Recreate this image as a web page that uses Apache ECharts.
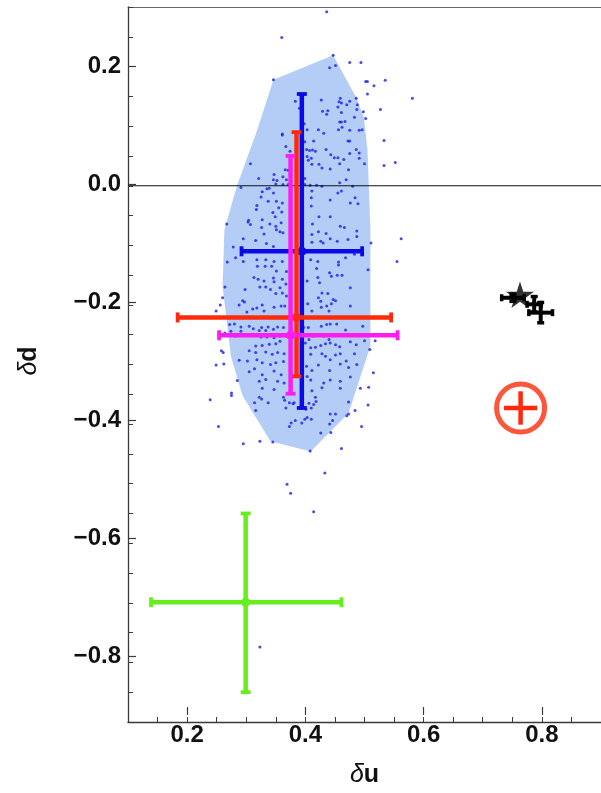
<!DOCTYPE html>
<html><head><meta charset="utf-8">
<script src="https://cdn.jsdelivr.net/npm/echarts@6/dist/echarts.min.js"></script>
<style>html,body{margin:0;padding:0;background:#fff}#c{width:601px;height:793px}</style>
</head><body><div id="c"></div>
<script>
// ---------- tick labels ----------
const xMajorTicks = [0.2, 0.4, 0.6, 0.8];
const yMajorTicks = [-0.8, -0.6, -0.4, -0.2, 0, 0.2];

// ---------- sample cloud (δu, δd) ----------
const cloud = [
[0.436,0.292],[0.360,0.249],[0.447,0.219],[0.441,0.198],[0.451,0.202],[0.475,0.207],[0.494,0.207],[0.346,0.178],[0.502,0.175],[0.505,0.175],[0.516,0.168],[0.535,0.177],[0.505,0.154],[0.581,0.147],[0.383,0.142],[0.427,0.144],[0.459,0.147],[0.457,0.141],[0.461,0.139],[0.475,0.142],[0.486,0.147],[0.488,0.136],[0.470,0.136],[0.455,0.132],[0.390,0.130],[0.429,0.125],[0.438,0.126],[0.436,0.120],[0.461,0.123],[0.487,0.128],[0.498,0.124],[0.527,0.128],[0.483,0.115],[0.458,0.107],[0.461,0.107],[0.467,0.108],[0.502,0.113],[0.398,0.104],[0.462,0.098],[0.456,0.094],[0.475,0.093],[0.491,0.093],[0.496,0.094],[0.403,0.094],[0.422,0.094],[0.431,0.088],[0.361,0.087],
[0.361,0.085],[0.399,0.074],[0.414,0.075],[0.472,0.075],[0.475,0.075],[0.533,0.076],[0.367,0.066],[0.374,0.058],[0.402,0.061],[0.407,0.059],[0.412,0.060],[0.417,0.058],[0.435,0.061],[0.443,0.052],[0.449,0.047],[0.455,0.047],[0.465,0.044],[0.475,0.054],[0.486,0.061],[0.491,0.055],[0.491,0.046],[0.500,0.037],[0.552,0.039],[0.533,0.034],[0.403,0.049],[0.410,0.046],[0.405,0.043],[0.411,0.036],[0.423,0.036],[0.428,0.030],[0.442,0.028],[0.458,0.037],[0.473,0.027],[0.307,0.037],[0.366,0.027],[0.371,0.026],[0.347,0.019],[0.321,0.012],[0.346,0.010],[0.352,0.009],[0.362,0.015],[0.368,0.010],[0.350,0.003],[0.362,0.002],[0.371,0.002],[0.399,0.012],[0.399,0.002],[0.408,0.001],[0.419,0.001],[0.428,-0.001],[0.469,0.010],[0.458,0.005],[0.480,-0.001],[0.291,-0.003],[0.335,-0.005],[0.339,-0.004],[0.327,-0.010],[0.346,-0.012],[0.411,-0.009],[0.455,-0.012],[0.461,-0.009],[0.410,-0.020],[0.325,-0.019],[0.484,-0.020],[0.442,-0.024],[0.337,-0.026],[0.351,-0.026],[0.476,-0.029],[0.489,-0.030],[0.318,-0.033],[0.317,-0.040],[0.361,-0.029],[0.355,-0.037],[0.410,-0.034],[0.345,-0.045],[0.360,-0.044],[0.423,-0.052],[0.442,-0.052],[0.349,-0.052],[0.267,-0.064],[0.304,-0.058],[0.303,-0.061],[0.327,-0.057],[0.307,-0.065],[0.326,-0.070],[0.340,-0.064],[0.350,-0.068],[0.351,-0.074],[0.359,-0.062],[0.357,-0.077],[0.362,-0.079],[0.412,-0.064],[0.459,-0.068],[0.466,-0.070],[0.330,-0.081],[0.411,-0.082],[0.422,-0.077],[0.435,-0.080],[0.487,-0.076],[0.487,-0.085],[0.295,-0.089],[0.316,-0.092],[0.411,-0.095],[0.426,-0.093],[0.430,-0.096],[0.442,-0.089],[0.454,-0.093],[0.472,-0.090],[0.511,-0.096],[0.562,-0.089],[0.334,-0.097],[0.346,-0.102],[0.278,-0.103],[0.282,-0.121],[0.295,-0.127],[0.268,-0.128],[0.318,-0.124],[0.333,-0.124],[0.347,-0.127],[0.361,-0.127],[0.409,-0.124],[0.421,-0.127],[0.456,-0.128],[0.468,-0.121],[0.483,-0.115],[0.555,-0.127],
[0.319,-0.135],[0.332,-0.135],[0.343,-0.135],[0.351,-0.143],[0.368,-0.144],[0.419,-0.139],[0.441,-0.146],[0.456,-0.133],[0.506,-0.141],[0.313,-0.154],[0.320,-0.157],[0.330,-0.160],[0.346,-0.155],[0.347,-0.161],[0.361,-0.157],[0.367,-0.165],[0.403,-0.160],[0.421,-0.154],[0.424,-0.163],[0.444,-0.152],[0.454,-0.150],[0.462,-0.150],[0.264,-0.170],[0.298,-0.174],[0.323,-0.170],[0.333,-0.170],[0.341,-0.174],[0.357,-0.171],[0.476,-0.171],[0.350,-0.181],[0.361,-0.180],[0.368,-0.185],[0.428,-0.180],[0.438,-0.181],[0.422,-0.188],[0.426,-0.194],[0.260,-0.188],[0.294,-0.193],[0.297,-0.195],[0.288,-0.200],[0.327,-0.200],[0.347,-0.204],[0.359,-0.202],[0.365,-0.202],[0.404,-0.198],[0.447,-0.191],[0.451,-0.193],[0.444,-0.198],[0.436,-0.202],[0.256,-0.200],[0.249,-0.210],[0.301,-0.212],[0.311,-0.207],[0.318,-0.205],[0.330,-0.210],[0.427,-0.204],[0.440,-0.210],[0.411,-0.210],[0.476,-0.202],[0.272,-0.233],[0.280,-0.232],[0.291,-0.237],[0.305,-0.236],[0.312,-0.240],[0.322,-0.243],[0.326,-0.238],[0.333,-0.243],[0.337,-0.237],[0.346,-0.241],[0.353,-0.237],[0.363,-0.238],[0.397,-0.238],[0.405,-0.238],[0.427,-0.236],[0.436,-0.233],[0.442,-0.232],[0.453,-0.232],[0.468,-0.242],[0.497,-0.236],[0.264,-0.247],[0.274,-0.244],[0.282,-0.252],[0.291,-0.244],[0.325,-0.254],[0.335,-0.254],[0.347,-0.255],[0.357,-0.252],[0.367,-0.252],[0.406,-0.258],[0.414,-0.252],[0.423,-0.250],[0.431,-0.252],[0.440,-0.258],[0.316,-0.269],[0.327,-0.268],[0.339,-0.266],[0.350,-0.265],[0.357,-0.261],[0.400,-0.264],[0.409,-0.272],[0.417,-0.271],[0.426,-0.268],[0.434,-0.265],[0.442,-0.264],[0.451,-0.267],[0.458,-0.270],[0.476,-0.262],[0.486,-0.267],[0.500,-0.260],[0.509,-0.275],[0.518,-0.260],[0.258,-0.277],[0.261,-0.280],[0.305,-0.277],[0.316,-0.280],[0.333,-0.279],[0.344,-0.283],[0.353,-0.280],[0.364,-0.282],[0.409,-0.283],[0.428,-0.282],[0.434,-0.286],[0.442,-0.292],[0.451,-0.284],[0.459,-0.282],[0.469,-0.294],[0.483,-0.282],[0.288,-0.293],[0.302,-0.294],[0.318,-0.292],[0.327,-0.297],[0.341,-0.300],[0.350,-0.297],[0.363,-0.295],[0.249,-0.301],[0.262,-0.299],[0.402,-0.303],[0.411,-0.310],[0.422,-0.301],[0.441,-0.310],[0.459,-0.299],[0.473,-0.305],[0.487,-0.300],[0.515,-0.314],[0.305,-0.312],[0.314,-0.307],[0.327,-0.317],[0.347,-0.311],[0.359,-0.317],[0.285,-0.327],[0.322,-0.328],[0.333,-0.325],[0.353,-0.328],[0.364,-0.331],[0.403,-0.320],[0.409,-0.326],[0.431,-0.331],[0.442,-0.326],[0.459,-0.328],[0.476,-0.321],[0.507,-0.338],[0.327,-0.340],[0.347,-0.342],[0.411,-0.344],[0.428,-0.339],[0.459,-0.340],[0.493,-0.340],[0.275,-0.348],
[0.239,-0.359],[0.275,-0.352],[0.314,-0.364],[0.322,-0.355],[0.326,-0.358],[0.337,-0.364],[0.316,-0.377],[0.363,-0.355],[0.365,-0.360],[0.373,-0.364],[0.379,-0.366],[0.381,-0.364],[0.367,-0.373],[0.406,-0.365],[0.417,-0.355],[0.418,-0.362],[0.414,-0.367],[0.410,-0.373],[0.401,-0.375],[0.473,-0.363],[0.484,-0.377],[0.506,-0.368],[0.442,-0.383],[0.451,-0.383],[0.473,-0.383],[0.470,-0.386],[0.446,-0.394],[0.441,-0.400],[0.383,-0.394],[0.376,-0.398],[0.373,-0.404],[0.394,-0.398],[0.399,-0.392],[0.403,-0.389],[0.410,-0.392],[0.253,-0.404],[0.495,-0.404],[0.426,-0.415],[0.443,-0.414],[0.295,-0.433],[0.323,-0.429],[0.345,-0.430],[0.408,-0.445],[0.461,-0.441],[0.433,-0.482],[0.369,-0.501],[0.375,-0.516],[0.414,-0.547],[0.323,-0.774]
];

// ---------- shaded region outline ----------
const hullU = [0.447,0.486,0.499,0.505,0.510,0.510,0.473,0.409,0.341,0.294,0.274,0.260,0.263,0.285,0.316,0.346];
const hullD = [0.219,0.148,0.114,0.061,-0.074,-0.269,-0.382,-0.446,-0.429,-0.353,-0.286,-0.169,-0.074,0.002,0.086,0.178];

// ---------- error-bar estimates: blue, red, magenta, green ----------
const barU     = [0.394, 0.385, 0.375, 0.299];
const barD     = [-0.110, -0.221, -0.251, -0.699];
const barULow  = [0.292, 0.184, 0.254, 0.139];
const barUHigh = [0.496, 0.545, 0.556, 0.461];
const barDLow  = [-0.373, -0.320, -0.349, -0.850];
const barDHigh = [0.154, 0.090, 0.050, -0.550];
const barColors = ['#0a0ae8', '#ff2a0a', '#ff1cf0', '#66ee1e'];

// ---------- black star and crosses ----------
const starPoint = [0.763, -0.183];
const crossU    = [0.751, 0.787, 0.798];
const crossD    = [-0.188, -0.199, -0.213];
const crossUErr = [0.019, 0.012, 0.020];
const crossDErr = [0.006, 0.013, 0.017];

// ---------- red circled point ----------
const ringPoint = [0.764, -0.373];
const ringErr   = [0.028, 0.028];

function makeBarRenderer(colors, lw, capLen, capW, dotR) {
  return function (params, api) {
    const u = api.value(0), d = api.value(1);
    const ul = api.value(2), uh = api.value(3), dl = api.value(4), dh = api.value(5);
    const col = Array.isArray(colors) ? colors[params.dataIndex] : colors;
    const c = api.coord([u, d]);
    const L = api.coord([ul, d]), R = api.coord([uh, d]);
    const B = api.coord([u, dl]), T = api.coord([u, dh]);
    const st = { stroke: col, lineWidth: lw, lineCap: 'butt' };
    const cs = { stroke: col, lineWidth: capW };
    const ch = [
      { type: 'line', shape: { x1: L[0], y1: L[1], x2: R[0], y2: R[1] }, style: st },
      { type: 'line', shape: { x1: B[0], y1: B[1], x2: T[0], y2: T[1] }, style: st }
    ];
    if (capLen > 0) {
      const h = capLen / 2;
      ch.push({ type: 'line', shape: { x1: L[0], y1: L[1] - h, x2: L[0], y2: L[1] + h }, style: cs });
      ch.push({ type: 'line', shape: { x1: R[0], y1: R[1] - h, x2: R[0], y2: R[1] + h }, style: cs });
      ch.push({ type: 'line', shape: { x1: B[0] - h, y1: B[1], x2: B[0] + h, y2: B[1] }, style: cs });
      ch.push({ type: 'line', shape: { x1: T[0] - h, y1: T[1], x2: T[0] + h, y2: T[1] }, style: cs });
    }
    if (dotR > 0) ch.push({ type: 'circle', shape: { cx: c[0], cy: c[1], r: dotR }, style: { fill: col } });
    return { type: 'group', children: ch };
  };
}

const barData = barU.map((u, i) => [u, barD[i], barULow[i], barUHigh[i], barDLow[i], barDHigh[i]]);
const crossData = crossU.map((u, i) => [u, crossD[i], u - crossUErr[i], u + crossUErr[i], crossD[i] - crossDErr[i], crossD[i] + crossDErr[i]]);
const ringCross = [[ringPoint[0], ringPoint[1], ringPoint[0] - ringErr[0], ringPoint[0] + ringErr[0], ringPoint[1] - ringErr[1], ringPoint[1] + ringErr[1]]];

const axisCol = '#3a3a3a';
const labelStyle = { fontSize: 24, fontWeight: 'bold', fontFamily: 'Liberation Sans, Arial, sans-serif', color: '#111' };
const nameRich = {
  i: { fontFamily: 'Liberation Sans, Arial, sans-serif', fontStyle: 'italic', fontSize: 25, color: '#111' },
  b: { fontFamily: 'Liberation Sans, Arial, sans-serif', fontWeight: 'bold', fontSize: 25, color: '#111' }
};
const gridBox = { left: 128, top: 7, width: 475, height: 715 };

const chart = echarts.init(document.getElementById('c'), null, { renderer: 'canvas' });
chart.setOption({
  animation: false,
  backgroundColor: '#fff',
  grid: [Object.assign({}, gridBox), Object.assign({}, gridBox)],
  xAxis: [
    { gridIndex: 0, type: 'value', min: 0.1, max: 0.9, interval: 0.05, position: 'bottom',
      axisLine: { show: true, onZero: false, lineStyle: { color: axisCol, width: 1.3 } },
      axisTick: { show: true, inside: true, length: 5, lineStyle: { color: axisCol, width: 1 } },
      axisLabel: { show: false }, splitLine: { show: false } },
    { gridIndex: 0, type: 'value', min: 0.1, max: 0.9, interval: 0.1, position: 'top',
      axisLine: { show: true, onZero: false, lineStyle: { color: '#666', width: 1 } },
      axisTick: { show: false }, axisLabel: { show: false }, splitLine: { show: false } },
    { gridIndex: 1, type: 'value', min: 0.1, max: 0.9, position: 'bottom',
      axisLine: { show: false, onZero: false },
      axisTick: { show: true, inside: true, length: 8, customValues: xMajorTicks, lineStyle: { color: axisCol, width: 1.2 } },
      axisLabel: Object.assign({ customValues: xMajorTicks, margin: 8, formatter: v => v.toFixed(1) }, labelStyle),
      splitLine: { show: false },
      name: '{i|δ}{b|u}', nameLocation: 'middle', nameGap: 48, nameTextStyle: { rich: nameRich } }
  ],
  yAxis: [
    { gridIndex: 0, type: 'value', min: -0.9, max: 0.3, interval: 0.05, position: 'left',
      axisLine: { show: true, onZero: false, lineStyle: { color: axisCol, width: 1.3 } },
      axisTick: { show: true, inside: true, length: 5, lineStyle: { color: axisCol, width: 1 } },
      axisLabel: { show: false }, splitLine: { show: false } },
    { gridIndex: 1, type: 'value', min: -0.9, max: 0.3, position: 'left',
      axisLine: { show: false, onZero: false },
      axisTick: { show: true, inside: true, length: 8, customValues: yMajorTicks, lineStyle: { color: axisCol, width: 1.2 } },
      axisLabel: Object.assign({ customValues: yMajorTicks, margin: 7,
        formatter: v => (v < -1e-9 ? '\u2212' : '') + Math.abs(v).toFixed(1) }, labelStyle),
      splitLine: { show: false },
      name: '{i|δ}{b|d}', nameLocation: 'middle', nameGap: 86, nameTextStyle: { rich: nameRich } }
  ],
  series: [
    { type: 'custom', xAxisIndex: 0, yAxisIndex: 0, z: 1, silent: true,
      data: [[hullU[0], hullD[0]]],
      renderItem: function (params, api) {
        const pts = hullU.map((u, i) => api.coord([u, hullD[i]]));
        return { type: 'polygon', shape: { points: pts }, style: { fill: '#b4cdf7' } };
      } },
    { type: 'scatter', xAxisIndex: 0, yAxisIndex: 0, z: 2, silent: true,
      data: cloud, symbol: 'circle', symbolSize: 3, itemStyle: { color: '#1c1cee' } },
    { type: 'line', xAxisIndex: 0, yAxisIndex: 0, z: 3, silent: true,
      data: [[0.1, 0], [0.9, 0]], symbol: 'none', lineStyle: { color: '#111', width: 1.2 } },
    { type: 'custom', xAxisIndex: 0, yAxisIndex: 0, z: 4, silent: true,
      data: barData, encode: { x: [0, 2, 3], y: [1, 4, 5] },
      renderItem: makeBarRenderer(barColors, 4.5, 10, 3.8, 4.5) },
    { type: 'custom', xAxisIndex: 0, yAxisIndex: 0, z: 5, silent: true,
      data: crossData, encode: { x: [0, 2, 3], y: [1, 4, 5] },
      renderItem: makeBarRenderer('#000', 4, 7, 3.5, 0) },
    { type: 'scatter', xAxisIndex: 0, yAxisIndex: 0, z: 6, silent: true,
      data: [starPoint], symbolKeepAspect: true, symbolSize: 28,
      symbol: 'path://M50,0 L61.2,34.5 L97.6,34.5 L68.2,55.9 L79.4,90.5 L50,69.1 L20.6,90.5 L31.8,55.9 L2.4,34.5 L38.8,34.5 Z',
      itemStyle: { color: '#000' } },
    { type: 'scatter', xAxisIndex: 0, yAxisIndex: 0, z: 6, silent: true,
      data: [ringPoint], symbol: 'circle', symbolSize: 48,
      itemStyle: { color: 'rgba(0,0,0,0)', borderColor: '#ff2a0a', borderWidth: 5 } },
    { type: 'custom', xAxisIndex: 0, yAxisIndex: 0, z: 6, silent: true,
      data: ringCross, encode: { x: [0, 2, 3], y: [1, 4, 5] },
      renderItem: makeBarRenderer('#ff2a0a', 4.5, 0, 0, 0) }
  ]
});
</script>
</body></html>
